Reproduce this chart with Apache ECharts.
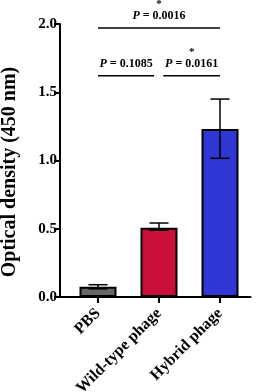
<!DOCTYPE html>
<html>
<head>
<meta charset="utf-8">
<script src="https://cdn.jsdelivr.net/npm/echarts@6/dist/echarts.min.js"></script>
<style>
  html, body { margin: 0; padding: 0; background: #fff; }
  #chart { width: 260px; height: 392px; }
</style>
</head>
<body>
<div id="chart"></div>
<script>
// data
var groups = ['PBS', 'Wild-type phage', 'Hybrid phage'];
var means = [0.075, 0.508, 1.23];
var errLow = [0.06, 0.489, 1.016];
var errHigh = [0.09, 0.542, 1.45];
var barColors = ['#666666', '#c8103a', '#2e36d4'];

// significance brackets: from, to, height, p text, star
var brackets = [
    [0, 2, 1.97, '0.0016', '*'],
    [0, 0.92, 1.62, '0.1085', ''],
    [1.07, 2, 1.62, '0.0161', '*']
];

var font = '"Liberation Serif", "Times New Roman", serif';

window.onload = function () {
    var chart = echarts.init(document.getElementById('chart'), null, {renderer: 'canvas'});

    var barData = [];
    for (var i = 0; i < groups.length; i++) {
        barData.push({
            value: means[i],
            itemStyle: {color: barColors[i], borderColor: '#000', borderWidth: 2}
        });
    }
    var errData = [];
    for (var j = 0; j < groups.length; j++) {
        errData.push([j, errLow[j], errHigh[j]]);
    }

    var option = {
        backgroundColor: '#fff',
        animation: false,
        grid: [
            {left: 67.5, right: 9.5, top: 24, bottom: 95, containLabel: false, outerBoundsMode: 'none'},
            {left: 60, right: 9.5, top: 24, bottom: 95, containLabel: false, outerBoundsMode: 'none'}
        ],
        xAxis: [
            {
                type: 'category',
                gridIndex: 0,
                data: groups,
                axisLine: {show: false},
                axisTick: {show: true, alignWithLabel: true, length: 6, lineStyle: {color: '#000', width: 2}},
                axisLabel: {
                    rotate: 45, interval: 0, margin: 14,
                    color: '#000', fontFamily: font, fontWeight: 'bold', fontSize: 16
                }
            },
            {
                type: 'value',
                gridIndex: 1,
                min: -0.623, max: 2.5,
                axisLine: {show: true, onZero: false, lineStyle: {color: '#000', width: 2}},
                axisTick: {show: false},
                axisLabel: {show: false},
                splitLine: {show: false}
            }
        ],
        yAxis: [
            {
                type: 'value',
                gridIndex: 0,
                min: 0, max: 2, interval: 0.5,
                offset: 7.5,
                name: 'Optical density (450 nm)',
                nameLocation: 'middle',
                nameGap: 40,
                nameTextStyle: {
                    color: '#000', fontFamily: font, fontWeight: 'bold', fontSize: 20,
                    padding: [0, 23, 0, 0]
                },
                axisLine: {show: true, lineStyle: {color: '#000', width: 2}},
                axisTick: {show: true, length: 6, lineStyle: {color: '#000', width: 2}},
                axisLabel: {
                    color: '#000', fontFamily: font, fontWeight: 'bold', fontSize: 15, margin: 3,
                    formatter: function (v) { return v.toFixed(1); }
                },
                splitLine: {show: false}
            },
            {
                type: 'value',
                gridIndex: 1,
                min: 0, max: 2,
                show: false
            }
        ],
        series: [
            {
                type: 'bar',
                xAxisIndex: 0, yAxisIndex: 0,
                barWidth: 37,
                data: barData,
                z: 2
            },
            {
                type: 'custom',
                xAxisIndex: 0, yAxisIndex: 0,
                data: errData,
                z: 3,
                renderItem: function (params, api) {
                    var x = api.value(0);
                    var lo = api.coord([x, api.value(1)]);
                    var hi = api.coord([x, api.value(2)]);
                    var hw = 9.5;
                    var st = {stroke: '#000', lineWidth: 1.5};
                    return {
                        type: 'group',
                        children: [
                            {type: 'line', shape: {x1: lo[0], y1: lo[1], x2: hi[0], y2: hi[1]}, style: st},
                            {type: 'line', shape: {x1: hi[0] - hw, y1: hi[1], x2: hi[0] + hw, y2: hi[1]}, style: st},
                            {type: 'line', shape: {x1: lo[0] - hw, y1: lo[1], x2: lo[0] + hw, y2: lo[1]}, style: st}
                        ]
                    };
                }
            },
            {
                type: 'custom',
                xAxisIndex: 1, yAxisIndex: 1,
                data: brackets,
                z: 3,
                renderItem: function (params, api) {
                    var b = brackets[params.dataIndex];
                    var p1 = api.coord([b[0], b[2]]);
                    var p2 = api.coord([b[1], b[2]]);
                    var cx = (p1[0] + p2[0]) / 2;
                    return {
                        type: 'group',
                        children: [
                            {type: 'line', shape: {x1: p1[0], y1: p1[1], x2: p2[0], y2: p2[1]},
                                style: {stroke: '#000', lineWidth: 1.5}},
                            {type: 'text', x: cx, y: p1[1] - 6,
                                style: {
                                    text: '{i|P} = ' + b[3],
                                    align: 'center', verticalAlign: 'bottom',
                                    fontFamily: font, fontWeight: 'bold', fontSize: 12, fill: '#000',
                                    rich: {i: {fontStyle: 'italic', fontFamily: font, fontWeight: 'bold', fontSize: 12}}
                                }},
                            {type: 'text', x: cx, y: p1[1] - 18,
                                style: {
                                    text: b[4], align: 'center', verticalAlign: 'bottom',
                                    fontFamily: font, fontWeight: 'bold', fontSize: 11, fill: '#000'
                                }}
                        ]
                    };
                }
            }
        ]
    };
    chart.setOption(option);
};
</script>
</body>
</html>
